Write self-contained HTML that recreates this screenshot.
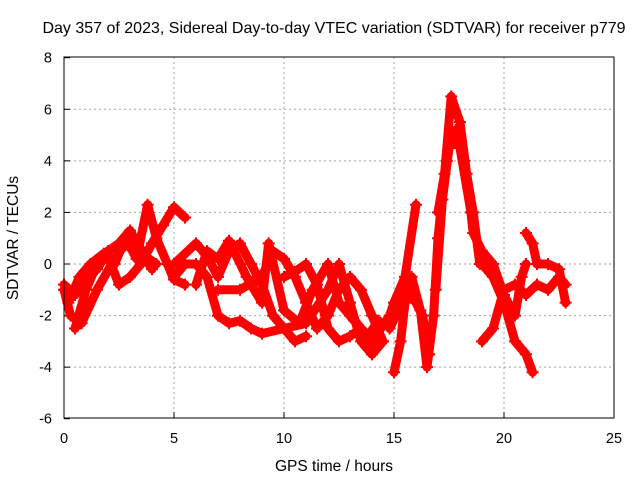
<!DOCTYPE html>
<html><head><meta charset="utf-8"><style>
body{margin:0;background:#fff;}
svg{display:block;font-family:"Liberation Sans",sans-serif;}
</style></head><body>
<svg id="chart" width="640" height="480">
<text x="334" y="33" font-size="16" text-anchor="middle">Day 357 of 2023, Sidereal Day-to-day VTEC variation (SDTVAR) for receiver p779</text>
<text x="334" y="471" font-size="15.5" text-anchor="middle">GPS time / hours</text>
<text transform="translate(18,238) rotate(-90)" font-size="15.5" text-anchor="middle">SDTVAR / TECUs</text>
<g id="grid"></g><g id="marks"></g>
<rect x="64" y="57" width="550" height="361" fill="none" stroke="#000"/>
</svg>
<script>
const xTicks=[0,5,10,15,20,25];
const yTicks=[-6,-4,-2,0,2,4,6,8];
const trackA=[[0,-1],[0.3,-2],[0.8,-2.3],[1.5,-1],[2.5,0.5],[3.2,1],[3.7,0.3],[4.2,0]];
const trackB=[[0.5,-2.5],[1,-1],[1.5,0],[2,0.3],[2.5,-0.8],[3,-0.5],[3.5,0],[4,0.8],[4.5,1.5],[5,2.2],[5.5,1.8]];
const trackC=[[0,-0.8],[0.5,-1.2],[1,-0.5],[1.5,-0.2],[2,0.5],[2.5,0.8],[3,1.3],[3.5,0.5],[4,-0.2]];
const trackM=[[0.2,-1.5],[0.7,-0.5],[1.2,0],[1.8,0.4],[2.3,0],[2.8,1],[3.3,0.2],[3.8,2.3],[4.2,1],[4.7,0],[5,-0.6],[5.5,-0.8]];
const trackD=[[5,-0.5],[5.5,0],[6,0],[6.5,-0.5],[7,-2],[7.5,-2.3],[8,-2.2],[8.5,-2.5],[9,-2.7],[10,-2.5],[10.5,-3],[11,-2.8]];
const trackE=[[5,0],[6,0.8],[6.5,0.3],[7,-0.5],[7.5,0.5],[8,0.8],[8.5,0],[9,-0.8],[9.5,-2],[10,-2.5],[11,-2.3],[12,-1],[12.5,0],[13,-1.5],[13.5,-3],[14,-3.5]];
const trackF=[[7,-1],[8,-1],[9,-0.5],[9.5,0.5],[10,0.2],[10.5,-0.5],[11,-1.5],[11.5,-2.5],[12,-2],[12.5,-1],[13,-0.5],[13.5,-1],[14,-2],[14.5,-3]];
const trackG=[[10,-0.5],[10.5,-0.3],[11,0],[11.5,-0.8],[12,-2.5],[12.5,-3],[13,-2.8],[13.5,-2.5],[14,-3.5],[14.5,-3]];
const trackN=[[6,-0.8],[6.5,0.5],[7,0.2],[7.5,0.9],[8.3,-0.5],[9,-1.5],[9.3,0.8],[10,-1.8],[10.7,-2.3],[11.3,-1],[12,0],[12.5,-1.5],[13.2,-2.2],[13.8,-2.8],[14.3,-2.2]];
const trackH=[[13,-2],[14,-3],[14.8,-2],[15,-1.5],[15.5,-0.5],[16,2.3]];
const trackO=[[14.8,-2.5],[15.2,-1.8],[15.6,-1],[16,-1.5],[16.3,-2],[16.6,-3.5]];
const trackI=[[15,-4.2],[15.3,-3],[15.5,-1.5],[15.8,-0.5],[16.2,-1.8],[16.5,-4],[16.8,-2],[17,1],[17.3,3.5],[17.6,6.5],[18,5.5],[18.3,3.5],[18.6,1.2],[19,0.5],[19.5,0],[20,-1.2],[20.5,-2],[20.8,-0.5],[21,0]];
const trackJ=[[17,2],[17.4,4],[17.6,5],[18,4.5],[18.5,2],[19,0],[19.5,-0.5],[20,-1.5],[20.5,-3],[21,-3.5],[21.3,-4.2]];
const trackP=[[16.9,-1],[17.2,2.5],[17.5,4.5],[17.8,5.2],[18.2,4],[18.6,2],[18.9,0]];
const trackK=[[19,-3],[19.5,-2.5],[20,-1],[20.5,-0.8],[21,-1.2],[21.5,-0.8],[22,-1],[22.5,-0.5],[22.8,-0.8]];
const trackL=[[21,1.2],[21.3,0.8],[21.5,0],[22,0],[22.5,-0.2],[22.8,-1.5]];
const tracks=[trackA,trackB,trackC,trackM,trackD,trackE,trackF,trackG,trackN,trackH,trackO,trackI,trackJ,trackP,trackK,trackL];
const NS="http://www.w3.org/2000/svg";
const X=t=>64+t*22, Y=v=>264-v*25.786;
const grid=document.getElementById('grid'), marks=document.getElementById('marks');
function mk(tag,attrs,parent){const e=document.createElementNS(NS,tag);for(const k in attrs)e.setAttribute(k,attrs[k]);parent.appendChild(e);return e;}
xTicks.forEach(t=>{
  if(t>0&&t<25){const l=mk('line',{x1:X(t),x2:X(t),y1:57,y2:418,stroke:'#a0a0a0','stroke-dasharray':'2,3'},grid);
  
  }
  const tk=mk('line',{x1:X(t),x2:X(t),y1:418,y2:412,stroke:'#000'},grid);
  
  
  const tx=mk('text',{x:X(t),y:443,'font-size':14.5,'text-anchor':'middle'},grid);tx.textContent=t;
  
  
});
yTicks.forEach(v=>{
  if(v>-6&&v<8){const l=mk('line',{x1:64,x2:614,y1:Y(v),y2:Y(v),stroke:'#a0a0a0','stroke-dasharray':'2,3'},grid);
  
  }
  const tk=mk('line',{x1:64,x2:70,y1:Y(v),y2:Y(v),stroke:'#000'},grid);
  
  
  const tx=mk('text',{x:52,y:Y(v)+5,'font-size':14.5,'text-anchor':'end'},grid);tx.textContent=v;
  
  
});
tracks.forEach((tr,i)=>{
  const p=mk('polyline',{points:tr.map(d=>X(d[0])+','+Y(d[1])).join(' '),fill:'none',stroke:'#f00','stroke-width':9,'stroke-linejoin':'round','stroke-linecap':'round'},marks);
  
  
  tr.forEach(d=>{
    const x=X(d[0]),y=Y(d[1]);
    const m=mk('path',{d:`M${x-6},${y}h12M${x},${y-6}v12`,stroke:'#f00','stroke-width':2},marks);
    
    
  });
});
</script>
</body></html>
